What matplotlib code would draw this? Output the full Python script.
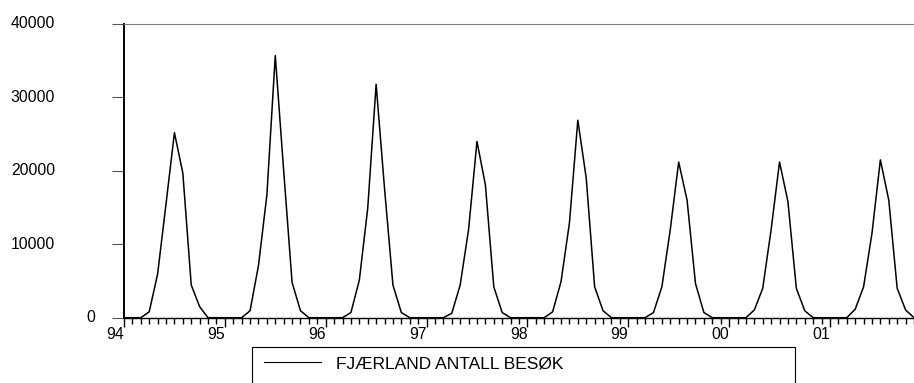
import numpy as np
import matplotlib
matplotlib.use('Agg')
import matplotlib.pyplot as plt
from matplotlib.lines import Line2D
from matplotlib.patches import Rectangle
from matplotlib.ticker import FixedLocator

plt.rcParams['font.family'] = ['Liberation Sans', 'DejaVu Sans']

# Monthly visitors, Jan 1994 - Nov 2001
v1994 = [0, 0, 0, 800, 5950, 15500, 25200, 19700, 4450, 1500, 0, 0]
v1995 = [0, 0, 0, 950, 7100, 16700, 35700, 20000, 4800, 950, 0, 0]
v1996 = [0, 0, 0, 700, 5100, 14900, 31800, 17600, 4450, 700, 0, 0]
v1997 = [0, 0, 0, 600, 4450, 12000, 24000, 18100, 4200, 700, 0, 0]
v1998 = [0, 0, 0, 800, 4900, 12900, 26900, 19000, 4200, 950, 0, 0]
v1999 = [0, 0, 0, 700, 4200, 12000, 21200, 16000, 4650, 700, 0, 0]
v2000 = [0, 0, 0, 1050, 4000, 12000, 21200, 15800, 4000, 950, 0, 0]
v2001 = [0, 0, 0, 1150, 4200, 11500, 21500, 16000, 4000, 1050, 0]

year_labels = ['94', '95', '96', '97', '98', '99', '00', '01']
y_ticks = [0, 10000, 20000, 30000, 40000]
series_name = 'FJÆRLAND ANTALL BESØK'

values = v1994 + v1995 + v1996 + v1997 + v1998 + v1999 + v2000 + v2001
t = np.arange(len(values))

W, H = 914, 383
fig = plt.figure(figsize=(W / 100, H / 100), dpi=100)
ax_l, ax_r, ax_t, ax_b = 124, 914, 24, 317.7
ax = fig.add_axes([ax_l / W, 1 - ax_b / H, (ax_r - ax_l) / W, (ax_b - ax_t) / H])

ax.plot(t, values, color='black', lw=1.1, clip_on=False)

ax.set_xlim(0, len(values) - 1)
ax.set_ylim(0, 40000)

# spines
ax.spines['right'].set_visible(False)
ax.spines['top'].set_color('#808080')
ax.spines['top'].set_linewidth(0.8)
ax.spines['left'].set_linewidth(1.4)
ax.spines['bottom'].set_linewidth(1.0)

# x ticks: years major, months minor
ax.xaxis.set_major_locator(FixedLocator(np.arange(len(year_labels)) * 12))
ax.xaxis.set_minor_locator(FixedLocator([i for i in t if i % 12 != 0]))
ax.set_xticklabels(year_labels, ha='right')
ax.tick_params(axis='x', which='major', direction='out', length=6.5,
               width=1.0, pad=0.5, labelsize=11.3)
ax.tick_params(axis='x', which='minor', direction='out', length=4.3,
               width=1.0)

# y ticks, labels placed like EViews
ax.set_yticks(y_ticks)
ax.set_yticklabels([])
ax.tick_params(axis='y', direction='out', length=8.6, width=0.8,
               color='#555555')
trans = ax.get_yaxis_transform()
for v in y_ticks:
    x_lab = (95 - ax_l) / (ax_r - ax_l) if v == 0 else (55 - ax_l) / (ax_r - ax_l)
    ax.text(x_lab, v, f'{v}', transform=trans, ha='right', va='center',
            fontsize=11.3, clip_on=False)

# legend box
box_l, box_r, box_t = 252, 795, 347
fig.add_artist(Rectangle((box_l / W, -0.05), (box_r - box_l) / W,
                         1 - box_t / H + 0.05, transform=fig.transFigure,
                         fill=False, lw=0.8, edgecolor='black'))
handle = Line2D([], [], color='black', lw=0.8)
fig.legend([handle], [series_name], loc='center left',
           bbox_to_anchor=(264 / W, 1 - 364 / H), frameon=False,
           handlelength=3.3, handletextpad=0.85, fontsize=12.5,
           borderpad=0, borderaxespad=0)

fig.savefig('out.png', dpi=100)
